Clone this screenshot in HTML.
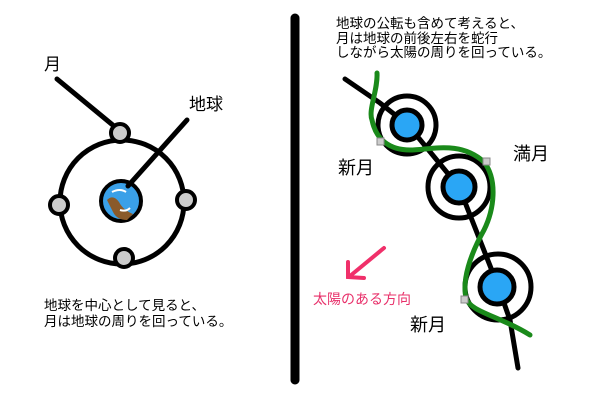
<!DOCTYPE html>
<html><head><meta charset="utf-8"><style>
body{margin:0;width:600px;height:400px;background:#fff;overflow:hidden;position:relative;font-family:"Liberation Sans","Noto Sans CJK JP",sans-serif;}
.t{position:absolute;white-space:nowrap;color:#000;}
</style></head><body>
<svg width="600" height="400" style="position:absolute;left:0;top:0">
<line x1="295" y1="18" x2="295" y2="380" stroke="#000" stroke-width="9" stroke-linecap="round"/>
<circle cx="122" cy="202" r="62" fill="none" stroke="#000" stroke-width="5"/>
<line x1="57" y1="79" x2="120" y2="131" stroke="#000" stroke-width="5" stroke-linecap="round"/>
<circle cx="121" cy="201" r="20" fill="#3aa0e8" stroke="#000" stroke-width="4"/>
<path d="M107 200 q6 -6 12 2 q4 8 14 12 l-6 6 q-10 0 -14 -8z" fill="#8a5a2a"/>
<path d="M112 192 q8 -4 14 0 M120 210 q6 2 10 -2" stroke="#fff" stroke-width="2" fill="none"/>
<line x1="187" y1="120" x2="128" y2="186" stroke="#000" stroke-width="5" stroke-linecap="round"/>
<g fill="#ccc" stroke="#000" stroke-width="4">
<circle cx="120" cy="133" r="9"/><circle cx="59" cy="205" r="9"/><circle cx="186" cy="200" r="9"/><circle cx="124" cy="258" r="9"/>
</g>
<polyline points="345,79 380,103 408,125 459,187 498,286 510,320 518,368" fill="none" stroke="#000" stroke-width="5" stroke-linecap="round"/>
<g fill="none" stroke="#000" stroke-width="5">
<circle cx="407" cy="125" r="29"/><circle cx="459" cy="187" r="31"/><circle cx="498" cy="287" r="33"/>
</g>
<g fill="#2aa6f5" stroke="#000" stroke-width="5">
<circle cx="407" cy="125" r="15"/><circle cx="459" cy="187" r="16"/><circle cx="497" cy="287" r="17"/>
</g>
<path d="M377 73 C378 90 368 110 372 120 C376 140 390 150 410 150 C430 150 460 140 484 162 C498 180 494 210 484 230 C470 255 462 280 466 298 C470 312 500 316 530 335" fill="none" stroke="#1a8a1a" stroke-width="5" stroke-linecap="round"/>
<g fill="#ccc" stroke="#888" stroke-width="1">
<rect x="377" y="138" width="7" height="7"/><rect x="483" y="158" width="7" height="7"/><rect x="461" y="296" width="7" height="7"/>
</g>
<g stroke="#f0306a" stroke-width="4" stroke-linecap="round" fill="none">
<line x1="384" y1="248" x2="350" y2="276"/><polyline points="348,262 348,277 364,278"/>
</g>
</svg>
<div class="t" style="left:44px;top:50px;font-size:17px">月</div>
<div class="t" style="left:189px;top:90px;font-size:17px">地球</div>
<div class="t" style="left:44px;top:298px;font-size:13.5px;line-height:16px">地球を中心として見ると、<br>月は地球の周りを回っている。</div>
<div class="t" style="left:336px;top:17px;font-size:13.5px;line-height:14.5px">地球の公転も含めて考えると、<br>月は地球の前後左右を蛇行<br>しながら太陽の周りを回っている。</div>
<div class="t" style="left:338px;top:154px;font-size:18px">新月</div>
<div class="t" style="left:513px;top:140px;font-size:18px">満月</div>
<div class="t" style="left:410px;top:311px;font-size:18px">新月</div>
<div class="t" style="left:313px;top:289px;font-size:14px;color:#e8306a">太陽のある方向</div>
</body></html>
